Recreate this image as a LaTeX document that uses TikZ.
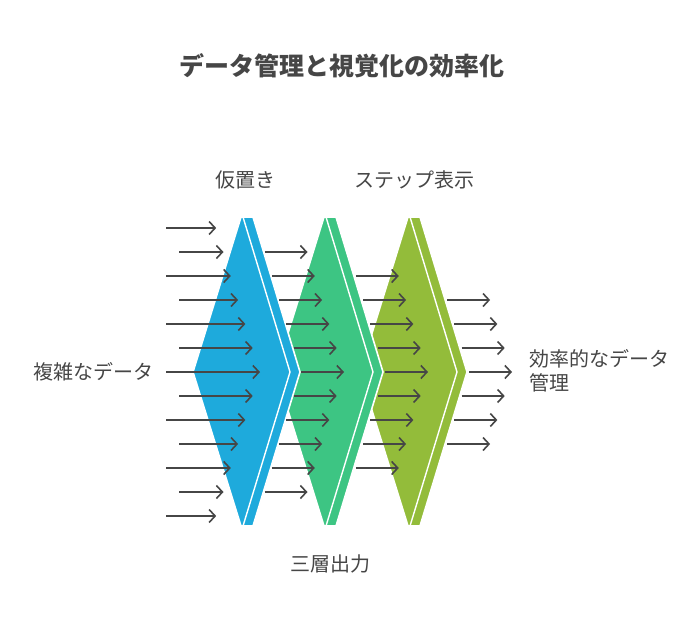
\documentclass[tikz,border=0pt]{standalone}
\usepackage{fontspec}
\setmainfont{Noto Sans CJK JP}
\usetikzlibrary{arrows.meta}

\definecolor{layerblue}{HTML}{1EAADC}
\definecolor{layergreen}{HTML}{3DC583}
\definecolor{layerolive}{HTML}{93BC3A}
\definecolor{inkgray}{HTML}{464646}

\tikzset{
  flow/.style={draw=inkgray, line width=1.6pt, -{Straight Barb[length=6pt,width=13pt]}},
  lbl/.style={text=inkgray, font=\fontsize{20}{24}\selectfont, inner sep=0pt},
}

\begin{document}
\begin{tikzpicture}[x=1pt,y=-1pt]
	\useasboundingbox (0,0) rectangle (696,624);

	\def\mid{372};
	\def\dy{24};

	% layers, back to front
	\foreach \tx/\col/\name in {408/layerolive/l3, 324/layergreen/l2, 241/layerblue/l1} {
		\fill[\col, draw=white, line width=1.6pt] (\tx-48,\mid) -- (\tx,217) -- (\tx+12,217) -- (\tx+59,\mid) -- (\tx+12,526) -- (\tx,526) -- cycle;
		\draw[white, line width=1.4pt] (\tx+2,217) -- (\tx+49,\mid) -- (\tx+2,526);
		\coordinate (\name) at (\tx,\mid);
	}

	% incoming data
	\foreach \k in {-6,...,6} {
		\pgfmathsetmacro\y{\mid+\dy*\k}
		\pgfmathsetmacro\xa{166+13*abs(mod(\k,2))}
		\pgfmathsetmacro\xb{260-7.3*abs(\k)}
		\coordinate (s0\k) at (\xa,\y);
		\coordinate (e0\k) at (\xb,\y);
		\draw[flow] (s0\k) -- (e0\k);
	}

	% flow between and after the layers
	\foreach \c/\x/\r in {1/301/5, 2/385/4, 3/469/3} {
		\foreach \k in {-\r,...,\r} {
			\pgfmathsetmacro\y{\mid+\dy*\k}
			\pgfmathsetmacro\xa{\x-7.3*abs(\k)}
			\coordinate (s\c\k) at (\xa,\y);
			\coordinate (e\c\k) at (\xa+43,\y);
			\draw[flow] (s\c\k) -- (e\c\k);
		}
	}

	\node[text=inkgray, font=\fontsize{25}{29}\selectfont\bfseries, inner sep=0pt] (title) at (342,66) {データ管理と視覚化の効率化};
	\node[lbl] (hold) at (245,180) {仮置き};
	\node[lbl] (step) at (414,180) {ステップ表示};
	\node[lbl] (out) at (330,564) {三層出力};
	\node[lbl, anchor=east] (src) at (154,372) {複雑なデータ};
	\node[lbl, anchor=west, align=left] (dst) at (529,371) {効率的なデータ\\管理};

\end{tikzpicture}
\end{document}
